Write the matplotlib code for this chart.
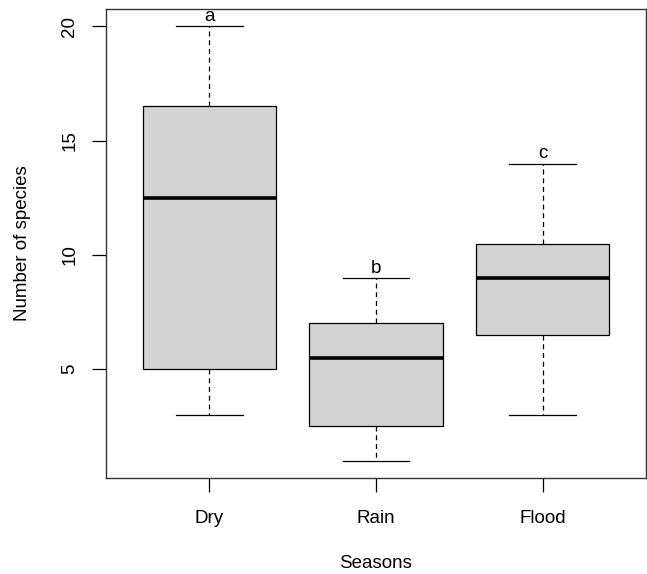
import matplotlib
matplotlib.use("Agg")
import matplotlib.pyplot as plt

plt.rcParams['font.family'] = ['Liberation Sans', 'DejaVu Sans']

seasons = ['Dry', 'Rain', 'Flood']
whisker_low = [3, 1, 3]
q1 = [5, 2.5, 6.5]
medians = [12.5, 5.5, 9]
q3 = [16.5, 7, 10.5]
whisker_high = [20, 9, 14]
letters = ['a', 'b', 'c']

stats = []
for i in range(len(seasons)):
    stats.append({'whislo': whisker_low[i], 'q1': q1[i], 'med': medians[i],
                  'q3': q3[i], 'whishi': whisker_high[i], 'label': seasons[i]})

fig = plt.figure(figsize=(6.47, 5.74), dpi=100)
ax = fig.add_axes([106 / 647, 96 / 574, 540 / 647, 469 / 574])

ax.bxp(stats, positions=[1, 2, 3], widths=0.8, showfliers=False,
       patch_artist=True,
       boxprops=dict(facecolor='#d3d3d3', edgecolor='black', linewidth=0.9),
       medianprops=dict(color='black', linewidth=2.6, solid_capstyle='butt'),
       whiskerprops=dict(color='black', linewidth=0.9, linestyle=(0, (4, 3))),
       capprops=dict(color='black', linewidth=0.9),
       capwidths=0.4)

for i, lab in enumerate(letters):
    ax.text(i + 1, whisker_high[i] + 0.05, lab, ha='center', va='bottom', fontsize=13.5)

ax.set_xlim(0.38, 3.62)
ax.set_ylim(0.24, 20.76)
ax.set_yticks([5, 10, 15, 20])
ax.set_yticklabels(['5', '10', '15', '20'], rotation=90, va='center')
ax.tick_params(axis='both', length=10, width=0.9, labelsize=13.5, pad=10)
ax.tick_params(axis='x', pad=13)
for s in ax.spines.values():
    s.set_linewidth(1.0)
    s.set_color('#333333')

ax.set_xlabel('Seasons', fontsize=13.5, labelpad=20)
ax.set_ylabel('Number of species', fontsize=13.5, labelpad=22)

fig.savefig('out.png', dpi=100)
